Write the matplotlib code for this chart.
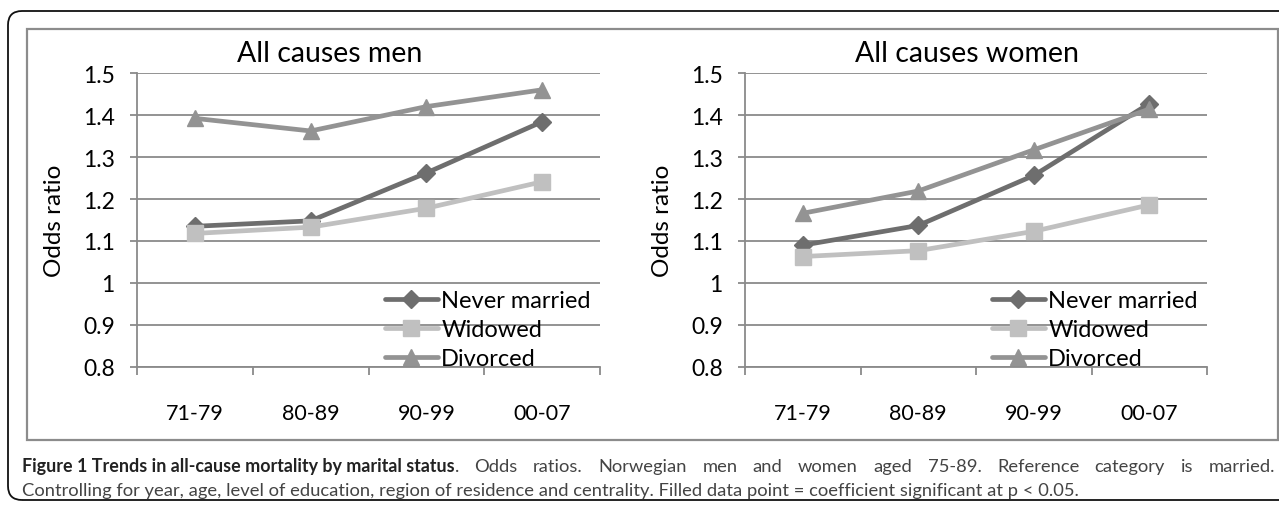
import numpy as np
import matplotlib
matplotlib.use('Agg')
from matplotlib import pyplot as plt
from matplotlib.patches import FancyBboxPatch, Rectangle
from matplotlib.transforms import IdentityTransform

plt.rcParams['font.family'] = ['Lato', 'DejaVu Sans']

periods = ['71-79', '80-89', '90-99', '00-07']
series = ['Never married', 'Widowed', 'Divorced']

men_never = [1.135, 1.148, 1.262, 1.384]
men_widowed = [1.118, 1.133, 1.178, 1.241]
men_divorced = [1.392, 1.362, 1.420, 1.460]

women_never = [1.090, 1.137, 1.256, 1.427]
women_widowed = [1.063, 1.077, 1.123, 1.186]
women_divorced = [1.166, 1.219, 1.317, 1.414]

yticks = [0.8, 0.9, 1.0, 1.1, 1.2, 1.3, 1.4, 1.5]
ytick_labels = ['0.8', '0.9', '1', '1.1', '1.2', '1.3', '1.4', '1.5']

colors = ['#6e6e6e', '#c0c0c0', '#939393']
markers = ['D', 's', '^']
msizes = [9.5, 12, 11]
grid_col = '#8a8a8a'

W, H = 1279, 506
fig = plt.figure(figsize=(W / 100, H / 100), dpi=100)

# outer rounded frame (pixel coords) + grey chart box
fig.patches.append(FancyBboxPatch((8, H - 501), 1320, 489,
                                  boxstyle='round,pad=0,rounding_size=14',
                                  transform=IdentityTransform(), fill=False,
                                  ec='#111111', lw=1.3))
fig.patches.append(Rectangle((27 / W, 1 - 441 / H), (1278 - 27) / W, (441 - 30) / H,
                             transform=fig.transFigure, fill=False,
                             ec='#8c8c8c', lw=1.6))


def panel(rect, title, title_x, data):
    ax = fig.add_axes(rect)
    x = np.arange(len(periods)) + 0.5
    for vals, name, c, m, ms in zip(data, series, colors, markers, msizes):
        ax.plot(x, vals, color=c, lw=3.4, marker=m, ms=ms, mec=c, mfc=c,
                label=name, solid_capstyle='round', zorder=3)
    ax.set_xlim(0, 4)
    ax.set_ylim(0.8, 1.5)
    ax.set_yticks(yticks)
    ax.set_yticklabels(ytick_labels)
    ax.yaxis.grid(True, color=grid_col, lw=1.3)
    ax.set_axisbelow(True)
    for s in ['top', 'right']:
        ax.spines[s].set_visible(False)
    for s in ['left', 'bottom']:
        ax.spines[s].set_color(grid_col)
        ax.spines[s].set_linewidth(1.3)
    ax.set_xticks([0, 1, 2, 3, 4])
    ax.set_xticklabels([])
    ax.set_xticks(x, minor=True)
    ax.set_xticklabels(periods, minor=True)
    ax.tick_params(axis='x', which='major', length=6, width=1.3, color=grid_col)
    ax.tick_params(axis='x', which='minor', length=0, pad=26, labelsize=15.5)
    ax.tick_params(axis='y', length=5, width=1.3, color=grid_col, labelsize=16.5, pad=11)
    ax.set_ylabel('Odds ratio', fontsize=17.5)
    ax.yaxis.set_label_coords(-0.155, 0.5)
    fig.text(title_x / W, 1 - 54 / H, title, fontsize=20.5, ha='center', va='center')
    ax.legend(loc='lower right', bbox_to_anchor=(0.98, -0.008), frameon=False,
              fontsize=17, handlelength=2.25, handletextpad=0.15,
              labelspacing=0.34, borderaxespad=0, borderpad=0)
    return ax


panel([137 / W, 1 - 368 / H, (600 - 137) / W, (368 - 74) / H], 'All causes men', 330,
      [men_never, men_widowed, men_divorced])
panel([745 / W, 1 - 368 / H, (1207 - 745) / W, (368 - 74) / H], 'All causes women', 967,
      [women_never, women_widowed, women_divorced])

# caption: bold lead, then regular text; first line justified to the frame
bold = 'Figure 1 Trends in all-cause mortality by marital status'
rest1 = '. Odds ratios. Norwegian men and women aged 75-89. Reference category is married.'
rest2 = ('Controlling for year, age, level of education, region of residence and centrality. '
         'Filled data point = coefficient significant at p < 0.05.')
y1, y2 = 1 - 467 / H, 1 - 491 / H
t = fig.text(22 / W, y1, bold, fontsize=12.9, fontweight='bold',
             color='#222222', va='center')
fig.canvas.draw()
renderer = fig.canvas.get_renderer()
x0 = t.get_window_extent(renderer).x1
words = rest1.split(' ')
word_txt = [fig.text(0, y1, w, fontsize=13.2, color='#444444', va='center') for w in words]
widths = [wt.get_window_extent(renderer).width for wt in word_txt]
gap = (1275 - x0 - sum(widths)) / (len(words) - 1)
xpos = x0
for wt, wd in zip(word_txt, widths):
    wt.set_x(xpos / W)
    xpos += wd + gap
fig.text(22 / W, y2, rest2, fontsize=13.2, color='#444444', va='center')

fig.savefig('out.png', dpi=100)
